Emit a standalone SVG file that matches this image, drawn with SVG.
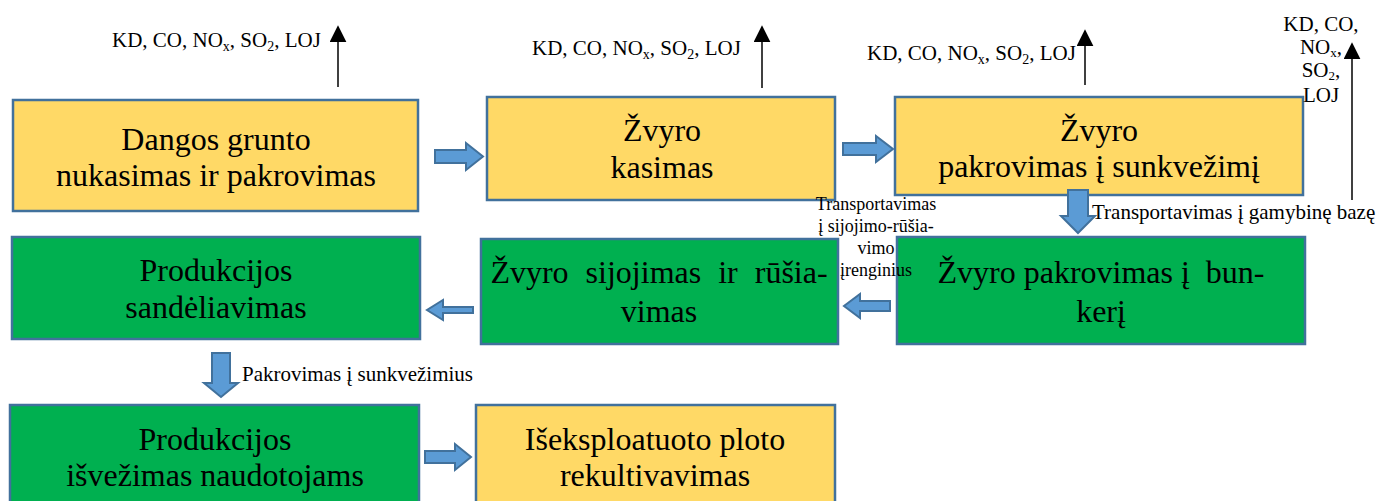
<svg xmlns="http://www.w3.org/2000/svg" width="1384" height="501" viewBox="0 0 1384 501">
<defs>
<style>
.y{fill:#FFD966;stroke:#41719C;stroke-width:2.5}
.g{fill:#00B050;stroke:#41719C;stroke-width:2.5}
.t{font-family:"Liberation Serif","DejaVu Serif",serif;font-size:32px;fill:#000;text-anchor:middle}
.l{font-family:"Liberation Serif","DejaVu Serif",serif;font-size:21px;fill:#000}
.s{font-family:"Liberation Serif","DejaVu Serif",serif;font-size:18px;fill:#000}
.m{font-family:"Liberation Serif","DejaVu Serif",serif;font-size:21px;fill:#000}
.ba{fill:#5B9BD5;stroke:#41719C;stroke-width:2}
.em{stroke:#000;stroke-width:1.5;fill:none}
</style>
<marker id="ah" viewBox="0 0 10 10" refX="9" refY="5" markerWidth="17" markerHeight="17" markerUnits="userSpaceOnUse" orient="auto"><path d="M0,0 L10,5 L0,10 z" fill="#000"/></marker>
</defs>
<rect width="1384" height="501" fill="#fff"/>

<g id="n1"><rect class="y" x="13" y="100" width="405" height="111"/>
<text class="t" x="216" y="150">Dangos grunto</text><text class="t" x="216" y="186">nukasimas ir pakrovimas</text></g>
<g id="n2"><rect class="y" x="487" y="97" width="348" height="103"/>
<text class="t" x="662" y="141">Žvyro</text><text class="t" x="662" y="178">kasimas</text></g>
<g id="n3"><rect class="y" x="895" y="97" width="408" height="98"/>
<text class="t" x="1099" y="141">Žvyro</text><text class="t" x="1099" y="177">pakrovimas į sunkvežimį</text></g>
<g id="n4"><rect class="g" x="12" y="237" width="408" height="102"/>
<text class="t" x="216" y="281">Produkcijos</text><text class="t" x="216" y="318">sandėliavimas</text></g>
<g id="n5"><rect class="g" x="481" y="239" width="357" height="105"/>
<text class="t" x="659" y="283" word-spacing="9">Žvyro sijojimas ir rūšia-</text><text class="t" x="659" y="322">vimas</text></g>
<g id="n6"><rect class="g" x="897" y="237" width="408" height="107"/>
<text class="t" x="1101" y="283" xml:space="preserve">Žvyro pakrovimas į  bun-</text><text class="t" x="1101" y="322">kerį</text></g>
<g id="n7"><rect class="g" x="10" y="405" width="409" height="100"/>
<text class="t" x="215" y="450">Produkcijos</text><text class="t" x="215" y="486">išvežimas naudotojams</text></g>
<g id="n8"><rect class="y" x="476" y="405" width="359" height="100"/>
<text class="t" x="655" y="450">Išeksploatuoto ploto</text><text class="t" x="655" y="486">rekultivavimas</text></g>

<g id="connectors">
<path class="ba" d="M435,150 H466 V143 L483,156.5 L466,170 V163 H435 Z"/>
<path class="ba" d="M843,143 H876 V136 L893,149 L876,162 V155 H843 Z"/>
<path class="ba" d="M473,307 H443 V300 L427,310 L443,320 V313 H473 Z"/>
<path class="ba" d="M890,301 H860 V294 L844,306 L860,318 V311 H890 Z"/>
<path class="ba" d="M1068,190 H1088 V216 H1095 L1078,233 L1061,216 H1068 Z"/>
<path class="ba" d="M212,353 H230 V383 H238 L221,397 L204,383 H212 Z"/>
<path class="ba" d="M425,451 H455 V444 L471,457 L455,470 V463 H425 Z"/>
<line class="em" x1="338" y1="87" x2="338" y2="27" marker-end="url(#ah)"/>
<line class="em" x1="762" y1="88" x2="762" y2="27" marker-end="url(#ah)"/>
<line class="em" x1="1085" y1="85" x2="1085" y2="31" marker-end="url(#ah)"/>
<line class="em" x1="1352" y1="200" x2="1352" y2="44" marker-end="url(#ah)"/>
</g>

<g id="labels">
<text class="l" x="112" y="47">KD, CO, NO<tspan font-size="14" dy="4">x</tspan><tspan dy="-4">, SO</tspan><tspan font-size="14" dy="4">2</tspan><tspan dy="-4">, LOJ</tspan></text>
<text class="l" x="532" y="55">KD, CO, NO<tspan font-size="14" dy="4">x</tspan><tspan dy="-4">, SO</tspan><tspan font-size="14" dy="4">2</tspan><tspan dy="-4">, LOJ</tspan></text>
<text class="l" x="867" y="60">KD, CO, NO<tspan font-size="14" dy="4">x</tspan><tspan dy="-4">, SO</tspan><tspan font-size="14" dy="4">2</tspan><tspan dy="-4">, LOJ</tspan></text>
<text class="l" x="1321" y="31" text-anchor="middle">KD, CO,</text>
<text class="l" x="1321" y="54" text-anchor="middle">NO<tspan font-size="13" dy="3">x</tspan><tspan dy="-3">,</tspan></text>
<text class="l" x="1321" y="77" text-anchor="middle">SO<tspan font-size="13" dy="3">2</tspan><tspan dy="-3">,</tspan></text>
<text class="l" x="1321" y="102" text-anchor="middle">LOJ</text>
<text class="m" x="1092" y="219">Transportavimas į gamybinę bazę</text>
<text class="s" x="876" y="210" text-anchor="middle">Transportavimas</text>
<text class="s" x="876" y="232" text-anchor="middle">į sijojimo-rūšia-</text>
<text class="s" x="876" y="254" text-anchor="middle">vimo</text>
<text class="s" x="876" y="276" text-anchor="middle">įrenginius</text>
<text class="m" x="242" y="381">Pakrovimas į sunkvežimius</text>
</g>
</svg>
